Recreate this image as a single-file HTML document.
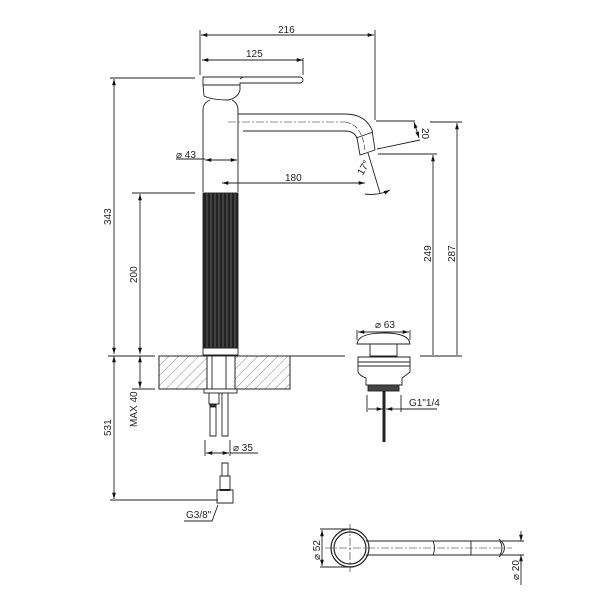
<!DOCTYPE html>
<html><head><style>body{margin:0;background:#fff}svg{display:block}text{font-family:"Liberation Sans",sans-serif;font-size:10px;fill:#222}</style></head><body>
<svg width="600" height="600" viewBox="0 0 600 600" xmlns="http://www.w3.org/2000/svg">
<defs>
<marker id="a" viewBox="0 0 10 10" refX="10" refY="5" markerWidth="7" markerHeight="7" orient="auto-start-reverse"><path d="M0,2L10,5L0,8z" fill="#111"/></marker>
<pattern id="h" width="7" height="7" patternUnits="userSpaceOnUse" patternTransform="rotate(45)"><line x1="0" y1="0" x2="0" y2="7" stroke="#555" stroke-width="0.7"/></pattern>
<pattern id="f" width="4" height="10" patternUnits="userSpaceOnUse"><rect width="4" height="10" fill="#222"/><line x1="3" y1="0" x2="3" y2="10" stroke="#777" stroke-width="0.7"/></pattern>
</defs>
<g stroke="#222" stroke-width="0.9" fill="none">
<line x1="200" y1="30" x2="200" y2="75"/><line x1="375" y1="30" x2="375" y2="120"/>
<line x1="201" y1="35" x2="374" y2="35" marker-start="url(#a)" marker-end="url(#a)"/>
<line x1="303" y1="58" x2="303" y2="75"/>
<line x1="202" y1="60" x2="303" y2="60" marker-start="url(#a)" marker-end="url(#a)"/>
<path d="M203,77 H300 a3,3 0 0 1 0,6 H240 V85 H203Z"/>
<path d="M240,79 l3,-2" />
<path d="M203,85 H240 V90 Q238,98 228,100 Q212,100 204,96 Z"/>
<path d="M210,100 Q203,103 203,110 V192 M232,100 Q238,103 238,110 V192"/>
<path d="M238,114 H345 Q365,114 372,130 L375,150 L360,155 L357,138 Q354,131 345,131 H243"/>
<line x1="228" y1="122" x2="345" y2="122" stroke-dasharray="8 2 2 2" stroke-width="0.6"/>
<path d="M345,122 Q362,124 365,150" stroke-dasharray="6 2" stroke-width="0.6"/>
<line x1="356" y1="138" x2="373" y2="132"/>
<line x1="376" y1="121" x2="415" y2="121"/><line x1="377" y1="149" x2="420" y2="140"/>
<line x1="414" y1="122" x2="419" y2="138" marker-start="url(#a)" marker-end="url(#a)"/>
<line x1="430" y1="122" x2="462" y2="122"/>
<path d="M368,153 L380,193"/><path d="M365,194 Q378,196 390,190" marker-end="url(#a)"/>
<line x1="176" y1="159" x2="205" y2="159"/>
<line x1="205" y1="160" x2="237" y2="160" marker-start="url(#a)" marker-end="url(#a)"/>
<line x1="222" y1="183" x2="365" y2="183" marker-start="url(#a)" marker-end="url(#a)"/>
<rect x="203" y="193" width="35" height="155" fill="url(#f)"/>
<path d="M203,348 H238 V355 H203Z"/>
<line x1="110" y1="78" x2="195" y2="78"/><line x1="132" y1="193" x2="195" y2="193"/>
<line x1="114" y1="79" x2="114" y2="354" marker-start="url(#a)" marker-end="url(#a)"/>
<line x1="140" y1="194" x2="140" y2="354" marker-start="url(#a)" marker-end="url(#a)"/>
<line x1="378" y1="154" x2="437" y2="154"/>
<line x1="457" y1="123" x2="457" y2="355" marker-start="url(#a)"/>
<line x1="433" y1="155" x2="433" y2="355" marker-start="url(#a)"/>
<line x1="290" y1="356" x2="345" y2="356"/><line x1="420" y1="356" x2="462" y2="356"/>
<line x1="108" y1="356" x2="155" y2="356"/>
<rect x="159" y="356" width="131" height="33" fill="url(#h)"/>
<rect x="159" y="356" width="131" height="33"/>
<rect x="207" y="356" width="28" height="33" fill="#fff"/>
<line x1="207" y1="356" x2="207" y2="389"/><line x1="235" y1="356" x2="235" y2="389"/>
<line x1="212" y1="356" x2="212" y2="389"/><line x1="226" y1="356" x2="226" y2="389"/>
<rect x="204" y="389" width="33" height="4" fill="#fff"/>
<path d="M209,393 V404 H219 V393 M210,404 V436 H216 V404 M222,393 V436 H228 V393"/>
<rect x="210" y="404" width="6" height="3" fill="#333"/>
<line x1="114" y1="356" x2="114" y2="499" marker-start="url(#a)" marker-end="url(#a)"/>
<line x1="140" y1="356" x2="140" y2="388" marker-start="url(#a)" marker-end="url(#a)"/>
<line x1="132" y1="389" x2="155" y2="389"/>
<line x1="110" y1="500" x2="218" y2="500"/>
<line x1="205" y1="440" x2="205" y2="456"/><line x1="230" y1="440" x2="230" y2="456"/>
<line x1="206" y1="453" x2="229" y2="453" marker-start="url(#a)" marker-end="url(#a)"/>
<line x1="230" y1="453" x2="258" y2="453"/>
<path d="M222,463 H228 V476 H222Z M220,476 H230 V490 H220Z M217,490 H233 V503 H217Z"/>
<line x1="220" y1="490" x2="230" y2="490" stroke-width="2"/>
<path d="M184,521 H212 L218,505"/>
<path d="M357,344 Q358,333 384,333 Q409,333 410,344 Z"/>
<path d="M370,344 V356 H397 V344"/>
<path d="M358,357 H410 V372 Q405,376 402,378 V385 H366 V378 Q360,376 358,372Z"/>
<line x1="358" y1="362" x2="410" y2="362"/><line x1="358" y1="366" x2="410" y2="366"/>
<rect x="368" y="385" width="31" height="6" fill="#444"/>
<line x1="384" y1="391" x2="384" y2="442" stroke-width="3"/>
<line x1="357" y1="330" x2="357" y2="340"/><line x1="410" y1="330" x2="410" y2="340"/>
<line x1="358" y1="332" x2="409" y2="332" marker-start="url(#a)" marker-end="url(#a)"/>
<line x1="367" y1="395" x2="367" y2="412"/><line x1="401" y1="395" x2="401" y2="412"/>
<line x1="368" y1="409" x2="383" y2="409" marker-end="url(#a)"/><line x1="400" y1="409" x2="386" y2="409" marker-end="url(#a)"/>
<line x1="400" y1="409" x2="437" y2="409"/>
<circle cx="350" cy="548" r="19" stroke-width="1.2"/><circle cx="350" cy="548" r="16" stroke-width="1.2"/>
<path d="M366,541 H433 Q436,548 433,555 H366"/>
<path d="M433,541 H500 Q504,548 500,555 H433"/>
<line x1="471" y1="541" x2="471" y2="555"/>
<path d="M499,539 Q510,548 499,557"/>
<line x1="325" y1="548" x2="512" y2="548" stroke-dasharray="8 2 2 2" stroke-width="0.6"/>
<line x1="350" y1="524" x2="350" y2="572" stroke-dasharray="8 2 2 2" stroke-width="0.6"/>
<line x1="320" y1="529" x2="350" y2="529"/><line x1="320" y1="567" x2="350" y2="567"/>
<line x1="322" y1="530" x2="322" y2="566" marker-start="url(#a)" marker-end="url(#a)"/>
<line x1="502" y1="541" x2="524" y2="541"/><line x1="502" y1="555" x2="524" y2="555"/>
<line x1="521" y1="531" x2="521" y2="541" marker-end="url(#a)"/><line x1="521" y1="565" x2="521" y2="555" marker-end="url(#a)"/>
<line x1="521" y1="555" x2="521" y2="585"/>
</g>
<text x="278" y="33">216</text>
<text x="246" y="57">125</text>
<text x="176" y="158">⌀ 43</text>
<text x="285" y="181">180</text>
<text x="380" y="160" transform="rotate(-60 385 183)">17°</text>
<text transform="translate(422,128) rotate(90)">20</text>
<text transform="translate(111,225) rotate(-90)">343</text>
<text transform="translate(137,283) rotate(-90)">200</text>
<text transform="translate(431,262) rotate(-90)">249</text>
<text transform="translate(455,262) rotate(-90)">287</text>
<text transform="translate(137,427) rotate(-90)">MAX 40</text>
<text transform="translate(111,436) rotate(-90)">531</text>
<text x="375" y="328">⌀ 63</text>
<text x="409" y="406">G1"1/4</text>
<text x="233" y="451">⌀ 35</text>
<text x="186" y="518">G3/8"</text>
<text transform="translate(320,560) rotate(-90)">⌀ 52</text>
<text transform="translate(519,580) rotate(-90)">⌀ 20</text>
</svg>
</body></html>
